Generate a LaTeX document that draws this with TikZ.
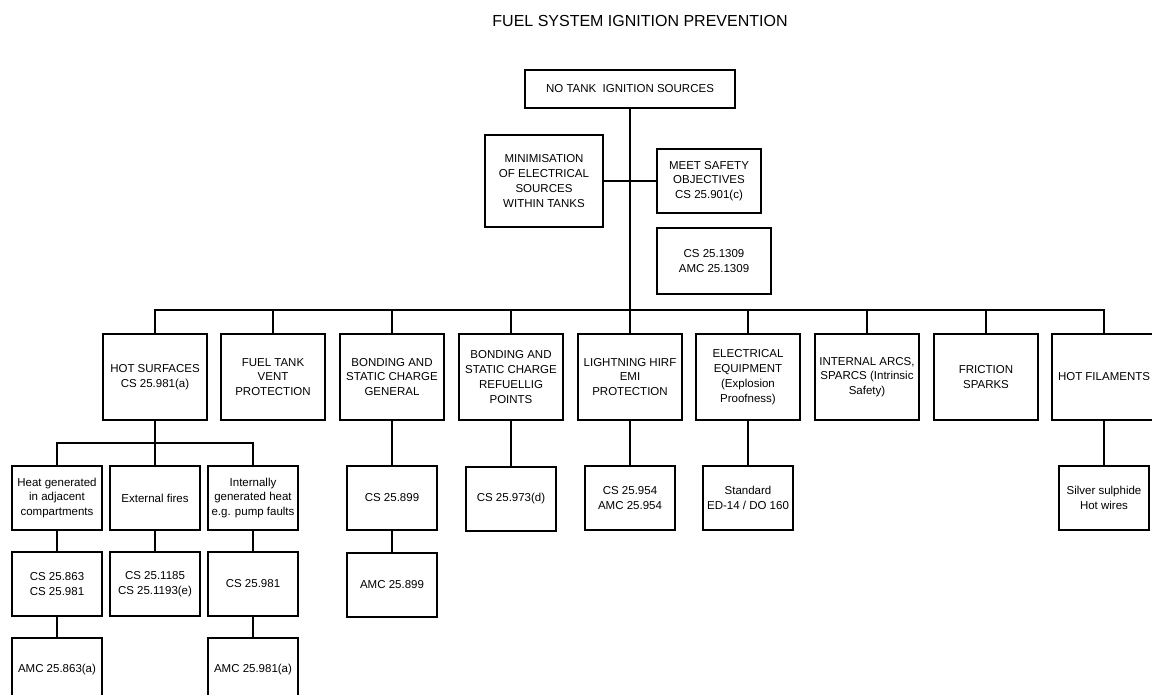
\documentclass[tikz,border=0pt]{standalone}
\usepackage{fontspec}
\setmainfont{Liberation Sans}
\newcommand{\boxfont}{\fontsize{11.5}{14.8}\selectfont}
\tikzset{
  box/.style={draw, line width=2pt, align=center, inner sep=0pt, font=\boxfont},
  headbox/.style={box, minimum width=104pt, minimum height=86pt},
  subbox/.style={box, minimum width=90pt, minimum height=64pt},
  link/.style={line width=2pt},
  heading/.style={font=\fontsize{16}{19}\selectfont}
}

\begin{document}
\begin{tikzpicture}[x=1pt,y=-1pt]
  \useasboundingbox (0,0) rectangle (1152,695);
  \node[heading] (title) at (640,21) {FUEL SYSTEM IGNITION PREVENTION};
  % top of the tree
  \node[box, minimum width=210pt, minimum height=38pt] (top) at (630,89) {NO TANK\ \ IGNITION SOURCES};
  \node[box, minimum width=118pt, minimum height=92pt] (minim) at (544,181) {MINIMISATION\\OF ELECTRICAL\\SOURCES\\WITHIN TANKS};
  \node[box, minimum width=104pt, minimum height=64pt] (meet) at (709,181) {MEET SAFETY\\OBJECTIVES\\CS 25.901(c)};
  \node[box, minimum width=114pt, minimum height=66pt] (cs1309) at (714,261) {CS 25.1309\\AMC 25.1309};
  % ignition sources
  \node[headbox] (hot) at (155,377) {HOT SURFACES\\CS 25.981(a)};
  \node[headbox] (vent) at (273,377) {FUEL TANK\\VENT\\PROTECTION};
  \node[headbox] (bondgen) at (392,377) {BONDING AND\\STATIC CHARGE\\GENERAL};
  \node[headbox] (bondref) at (511,377) {BONDING AND\\STATIC CHARGE\\REFUELLIG\\POINTS};
  \node[headbox] (light) at (630,377) {LIGHTNING HIRF\\EMI\\PROTECTION};
  \node[headbox] (elec) at (748,377) {ELECTRICAL\\EQUIPMENT\\(Explosion\\Proofness)};
  \node[headbox] (arcs) at (867,377) {INTERNAL ARCS,\\SPARCS (Intrinsic\\Safety)};
  \node[headbox] (fric) at (986,377) {FRICTION\\SPARKS};
  \node[headbox] (fil) at (1104,377) {HOT FILAMENTS};
  % second row
  \node[subbox] (heatadj) at (57,498) {Heat generated\\in adjacent\\compartments};
  \node[subbox] (extfire) at (155,498) {External fires};
  \node[subbox] (intheat) at (253,498) {Internally\\generated heat\\e.g. pump faults};
  \node[subbox] (cs899) at (392,498) {CS 25.899};
  \node[subbox] (cs973) at (511,499) {CS 25.973(d)};
  \node[subbox] (cs954) at (630,498) {CS 25.954\\AMC 25.954};
  \node[subbox] (std) at (748,498) {Standard\\ED-14 / DO 160};
  \node[subbox] (silver) at (1104,498) {Silver sulphide\\Hot wires};
  % third and fourth rows
  \node[subbox] (cs863) at (57,584) {CS 25.863\\CS 25.981};
  \node[subbox] (cs1185) at (155,584) {CS 25.1185\\CS 25.1193(e)};
  \node[subbox] (cs981) at (253,584) {CS 25.981};
  \node[subbox] (amc899) at (392,585) {AMC 25.899};
  \node[subbox] (amc863) at (57,670) {AMC 25.863(a)};
  \node[subbox] (amc981) at (253,670) {AMC 25.981(a)};
  % connectors
  \coordinate (bus) at (630,310);
  \coordinate (hotbus) at (155,443);
  \draw[link] (top.south) -- (light.north);
  \draw[link] (minim.east) -- (meet.west);
  \draw[link] (hot.north) |- (bus) -| (fil.north);
  \foreach \n in {vent,bondgen,bondref,elec,arcs,fric}
    \draw[link] (\n.north) -- (\n.north |- bus);
  \draw[link] (hot.south) -- (extfire.north);
  \draw[link] (heatadj.north) |- (hotbus) -| (intheat.north);
  \draw[link] (heatadj.south) -- (cs863.north);
  \draw[link] (cs863.south) -- (amc863.north);
  \draw[link] (extfire.south) -- (cs1185.north);
  \draw[link] (intheat.south) -- (cs981.north);
  \draw[link] (cs981.south) -- (amc981.north);
  \draw[link] (bondgen.south) -- (cs899.north);
  \draw[link] (cs899.south) -- (amc899.north);
  \draw[link] (bondref.south) -- (cs973.north);
  \draw[link] (light.south) -- (cs954.north);
  \draw[link] (elec.south) -- (std.north);
  \draw[link] (fil.south) -- (silver.north);
\end{tikzpicture}
\end{document}
